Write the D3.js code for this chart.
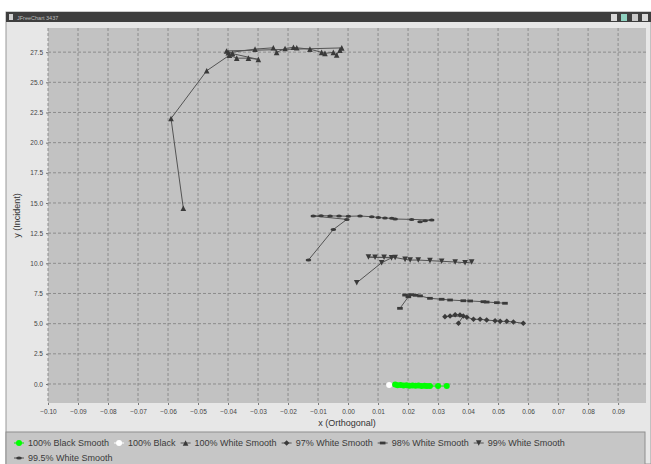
<!DOCTYPE html>
<html><head><meta charset="utf-8">
<script src="https://cdn.jsdelivr.net/npm/d3@7"></script>
<style>
html,body{margin:0;padding:0;background:#fff;}
svg{display:block;font-family:"Liberation Sans",Arial,sans-serif;}
</style></head>
<body><svg id="c" width="651" height="464"></svg>
<script>
// ---- data ----
const seriesNames = ["100% Black Smooth","100% Black","100% White Smooth","97% White Smooth","98% White Smooth","99% White Smooth","99.5% White Smooth"];
const black100Smooth = [[0.0157,-0.05],[0.0165,-0.10],[0.0175,-0.08],[0.0185,-0.12],[0.0195,-0.10],[0.0205,-0.14],[0.0215,-0.12],[0.0225,-0.15],[0.0235,-0.13],[0.0245,-0.16],[0.0255,-0.15],[0.0263,-0.17],[0.0273,-0.17],[0.0300,-0.17],[0.0329,-0.17]];
const black100 = [[0.0137,-0.08]];
const white100Smooth = [[-0.0549,14.56],[-0.0590,22.0],[-0.0471,25.96],[-0.0395,27.25],[-0.0371,27.0],[-0.0332,27.0],[-0.0299,26.9],[-0.0399,27.45],[-0.0310,27.75],[-0.0249,27.86],[-0.0238,27.48],[-0.0210,27.8],[-0.0182,27.9],[-0.0171,27.86],[-0.0127,27.75],[-0.0088,27.48],[-0.0077,27.4],[-0.0049,27.48],[-0.0038,27.26],[-0.0027,27.67],[-0.0021,27.85],[-0.0405,27.6],[-0.0385,27.4]];
const white97Smooth = [[0.0368,5.03],[0.0384,5.63],[0.0323,5.58],[0.0340,5.63],[0.0357,5.74],[0.0373,5.72],[0.0396,5.53],[0.0418,5.36],[0.0440,5.36],[0.0462,5.30],[0.0490,5.24],[0.0507,5.19],[0.0529,5.19],[0.0551,5.14],[0.0584,5.03]];
const white98Smooth = [[0.0173,6.27],[0.0201,7.23],[0.0190,7.37],[0.0210,7.40],[0.0225,7.35],[0.0240,7.30],[0.0273,7.10],[0.0312,7.02],[0.0340,6.96],[0.0384,6.90],[0.0407,6.88],[0.0451,6.82],[0.0462,6.79],[0.0496,6.74],[0.0523,6.69]];
const white99Smooth = [[0.0029,8.39],[0.0112,10.05],[0.0145,10.45],[0.0068,10.52],[0.0090,10.50],[0.0120,10.50],[0.0157,10.48],[0.0190,10.33],[0.0207,10.27],[0.0234,10.27],[0.0273,10.22],[0.0312,10.17],[0.0357,10.11],[0.0390,10.05],[0.0412,10.11]];
const white995Smooth = [[-0.0132,10.27],[-0.0049,12.8],[-0.0004,13.64],[-0.0116,13.92],[-0.0090,13.95],[-0.0060,13.93],[-0.0030,13.92],[0.0001,13.90],[0.0040,13.92],[0.0079,13.86],[0.0101,13.80],[0.0123,13.75],[0.0146,13.73],[0.0157,13.67],[0.0212,13.64],[0.0279,13.59],[0.0257,13.53],[0.0240,13.45]];
const xTicks = [-0.10,-0.09,-0.08,-0.07,-0.06,-0.05,-0.04,-0.03,-0.02,-0.01,0.00,0.01,0.02,0.03,0.04,0.05,0.06,0.07,0.08,0.09];
const yTicks = [0,2.5,5,7.5,10,12.5,15,17.5,20,22.5,25,27.5];
const xTitle = "x (Orthogonal)", yTitle = "y (Incident)", windowTitle = "JFreeChart 3437";

// ---- drawing ----
const svg = d3.select("#c");
const P = {l:48, r:646, t:28, b:403};
const x = d3.scaleLinear().domain([-0.1, 0.0993]).range([P.l, P.r]);
const y = d3.scaleLinear().domain([-1.575, 29.5]).range([P.b, P.t]);

// window background
svg.append("rect").attr("x",6).attr("y",12).attr("width",645).attr("height",452).attr("fill","#e7e7e7").attr("stroke","#9a9a9a").attr("stroke-width",1);
svg.append("rect").attr("x",6).attr("y",12).attr("width",645).attr("height",10).attr("fill","#3e3e3e");
svg.append("rect").attr("x",9).attr("y",14).attr("width",4).attr("height",6).attr("fill","#cfcfcf");
svg.append("text").attr("x",17).attr("y",19.5).attr("font-size",5.5).attr("fill","#bdbdbd").text(windowTitle);
[[611,"#d8d8d8"],[621,"#8fd1c0"],[632,"#c8c8c8"],[642,"#d8d8d8"]].forEach(([ix,c])=>{
  svg.append("rect").attr("x",ix).attr("y",14).attr("width",6).attr("height",7).attr("fill",c);
});

// plot area
svg.append("rect").attr("x",P.l).attr("y",P.t).attr("width",P.r-P.l).attr("height",P.b-P.t).attr("fill","#c2c2c2");
const grid = svg.append("g").attr("stroke","#878787").attr("stroke-width",0.9).attr("stroke-dasharray","3,2");
xTicks.forEach(t=>grid.append("line").attr("x1",x(t)).attr("x2",x(t)).attr("y1",P.t).attr("y2",P.b));
yTicks.forEach(t=>grid.append("line").attr("x1",P.l).attr("x2",P.r).attr("y1",y(t)).attr("y2",y(t)));

// axes
const xAxis = d3.axisBottom(x).tickValues(xTicks).tickFormat(d3.format(".2f")).tickSize(2).tickPadding(3);
const gx = svg.append("g").attr("transform",`translate(0,${P.b})`).call(xAxis);
gx.select(".domain").remove();
gx.selectAll("line").attr("stroke","#777");
gx.selectAll("text").attr("font-size",6.5).attr("fill","#444").attr("font-family","Liberation Sans, Arial, sans-serif").attr("dy","0.9em");
const yAxis = d3.axisLeft(y).tickValues(yTicks).tickFormat(d3.format(".1f")).tickSize(2).tickPadding(3);
const gy = svg.append("g").attr("transform",`translate(${P.l},0)`).call(yAxis);
gy.select(".domain").remove();
gy.selectAll("line").attr("stroke","#777");
gy.selectAll("text").attr("font-size",6.5).attr("fill","#444").attr("font-family","Liberation Sans, Arial, sans-serif");

svg.append("text").attr("x",(P.l+P.r)/2).attr("y",426).attr("text-anchor","middle").attr("font-size",9).attr("fill","#333").text(xTitle);
svg.append("text").attr("transform",`translate(20,${(P.t+P.b)/2}) rotate(-90)`).attr("text-anchor","middle").attr("font-size",9).attr("fill","#333").text(yTitle);

// shapes
const S = 2.8;
const shapes = {
  circle: (g,c)=>g.append("circle").attr("r",3).attr("fill",c),
  triUp: (g,c)=>g.append("path").attr("d",`M0,${-S}L${S},${S}L${-S},${S}Z`).attr("fill",c),
  diamond: (g,c)=>g.append("path").attr("d",`M0,${-S}L${S},0L0,${S}L${-S},0Z`).attr("fill",c),
  hRect: (g,c)=>g.append("rect").attr("x",-S).attr("y",-1.4).attr("width",2*S).attr("height",2.8).attr("fill",c),
  triDown: (g,c)=>g.append("path").attr("d",`M0,${S}L${S},${-S}L${-S},${-S}Z`).attr("fill",c),
  hEllipse: (g,c)=>g.append("ellipse").attr("rx",S).attr("ry",1.5).attr("fill",c)
};
const dark="#3a3a3a", lineC="#545454";
const series = [
  {data:black100Smooth, shape:"circle", color:"#00ff00", line:"#00ee00"},
  {data:black100, shape:"circle", color:"#ffffff", line:"#ffffff"},
  {data:white100Smooth, shape:"triUp", color:dark, line:lineC},
  {data:white97Smooth, shape:"diamond", color:dark, line:lineC},
  {data:white98Smooth, shape:"hRect", color:dark, line:lineC},
  {data:white99Smooth, shape:"triDown", color:dark, line:lineC},
  {data:white995Smooth, shape:"hEllipse", color:dark, line:lineC}
];
const lineGen = d3.line().x(d=>x(d[0])).y(d=>y(d[1]));
series.slice().reverse().forEach(s=>{
  const g = svg.append("g");
  g.append("path").attr("d",lineGen(s.data)).attr("fill","none").attr("stroke",s.line).attr("stroke-width",1);
  s.data.forEach(d=>{
    const m = g.append("g").attr("transform",`translate(${x(d[0])},${y(d[1])})`);
    shapes[s.shape](m,s.color);
  });
});

// legend
svg.append("rect").attr("x",6).attr("y",432).attr("width",639).attr("height",40).attr("fill","#c6c6c6").attr("stroke","#8e8e8e").attr("stroke-width",1);
const lg = svg.append("g").attr("font-size",9).attr("fill","#3a3a3a");
let lx = 14, ly = 443;
series.forEach((s,i)=>{
  if(i===6){lx=14; ly=458;}
  const item = lg.append("g");
  item.append("line").attr("x1",lx).attr("x2",lx+10).attr("y1",ly).attr("y2",ly).attr("stroke",s.line).attr("stroke-width",1);
  const m = item.append("g").attr("transform",`translate(${lx+5},${ly})`);
  shapes[s.shape](m,s.color);
  const t = item.append("text").attr("x",lx+14).attr("y",ly+3).text(seriesNames[i]);
  lx = lx + 14 + t.node().getComputedTextLength() + 5;
});
</script></body></html>
